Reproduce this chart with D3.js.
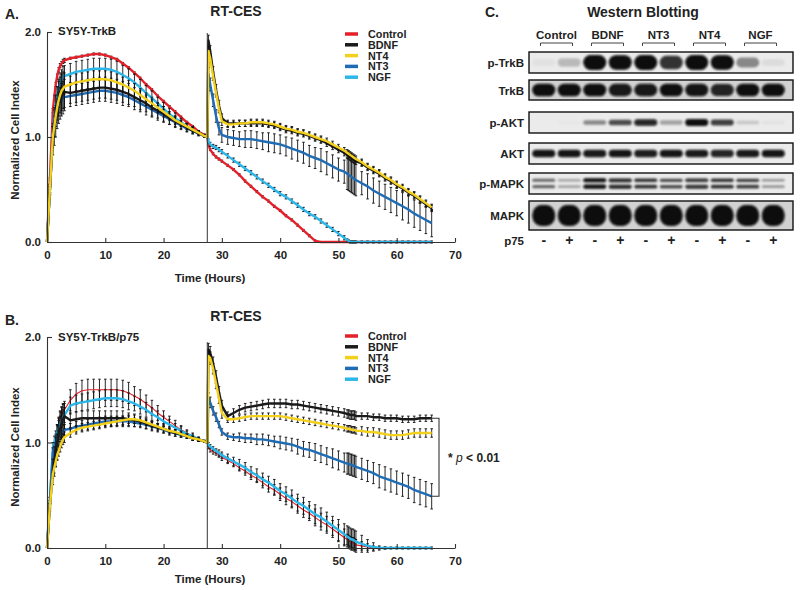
<!DOCTYPE html>
<html><head><meta charset="utf-8">
<script src="https://cdn.jsdelivr.net/npm/d3@7"></script>
<style>
body{margin:0;background:#fff}
svg{display:block;font-family:"Liberation Sans",Arial,Helvetica,sans-serif;font-weight:bold}
</style>
</head><body><svg id="c" width="800" height="590"></svg>
<script>
// ---------------- DATA ----------------
const times = [0,0.5,1,1.25,1.5,1.75,2,2.25,2.5,2.75,3,
 4,5,6,7,8,9,10,11,12,13,14,15,16,17,18,19,20,21,22,23,24,25,26,27,
 27.5,27.7,28,28.5,29,29.5,30,
 31,32,33,34,35,36,37,38,39,40,41,42,43,44,45,46,47,48,49,50,51,
 51.5,51.75,52,52.25,52.5,52.75,53,
 54,55,56,57,58,59,60,61,62,63,64,65,66];
const seriesNames = ["Control","BDNF","NT4","NT3","NGF"];
const seriesColors = ["#e4202a","#1a1a1a","#f3d01c","#1f6cb4","#2cb7ea"];
const xTicks = [0,10,20,30,40,50,60,70];
const yTicks = [0,1,2];
const treatmentTime = 27.5;

// Panel A: SY5Y-TrkB
const A_Control = [0,0.6,1.25,1.38,1.5,1.58,1.64,1.68,1.7,1.72,1.73,
 1.75,1.76,1.77,1.78,1.79,1.79,1.78,1.76,1.74,1.70,1.66,1.61,1.56,1.50,1.45,1.39,1.34,1.29,1.24,1.19,1.14,1.10,1.05,1.02,
 1.0,0.93,0.88,0.84,0.81,0.79,0.77,
 0.73,0.69,0.64,0.58,0.53,0.48,0.43,0.39,0.34,0.30,0.25,0.21,0.16,0.11,0.06,0.01,0,0,0,0,0,
 0,0,0,0,0,0,0,
 0,0,0,0,0,0,0,0,0,0,0,0,0];
const A_NGF = [0,0.5,1.05,1.2,1.32,1.4,1.47,1.52,1.55,1.57,1.58,
 1.6,1.62,1.63,1.64,1.65,1.65,1.65,1.64,1.62,1.59,1.56,1.52,1.47,1.42,1.37,1.32,1.27,1.22,1.18,1.14,1.10,1.07,1.04,1.01,
 1.0,0.96,0.93,0.91,0.9,0.88,0.86,
 0.82,0.78,0.74,0.70,0.66,0.62,0.58,0.54,0.50,0.46,0.43,0.39,0.35,0.31,0.27,0.24,0.20,0.16,0.12,0.08,0.04,
 0.02,0.01,0,0,0,0,0,
 0,0,0,0,0,0,0,0,0,0,0,0,0];
const A_NT4 = [0,0.5,1.0,1.1,1.2,1.28,1.35,1.4,1.44,1.46,1.48,
 1.5,1.52,1.53,1.54,1.55,1.55,1.55,1.54,1.52,1.5,1.47,1.44,1.4,1.36,1.32,1.28,1.24,1.2,1.16,1.13,1.1,1.07,1.04,1.01,
 1.0,1.82,1.75,1.58,1.42,1.27,1.15,
 1.12,1.12,1.13,1.13,1.14,1.14,1.14,1.13,1.12,1.1,1.08,1.07,1.05,1.04,1.02,1.0,0.98,0.96,0.93,0.9,0.87,
 0.85,0.84,0.83,0.82,0.81,0.8,0.79,
 0.76,0.72,0.69,0.66,0.62,0.59,0.55,0.52,0.48,0.45,0.41,0.37,0.33];
const A_BDNF = [0,0.5,0.98,1.1,1.2,1.28,1.33,1.37,1.4,1.42,1.43,
 1.42,1.43,1.44,1.45,1.46,1.47,1.47,1.46,1.45,1.43,1.41,1.38,1.35,1.32,1.28,1.25,1.22,1.18,1.15,1.12,1.09,1.06,1.04,1.01,
 1.0,1.92,1.82,1.62,1.45,1.3,1.18,
 1.13,1.13,1.13,1.13,1.13,1.13,1.13,1.12,1.11,1.09,1.07,1.06,1.04,1.03,1.01,0.99,0.97,0.94,0.91,0.88,0.85,
 0.83,0.82,0.81,0.8,0.79,0.78,0.77,
 0.75,0.71,0.68,0.65,0.61,0.58,0.54,0.51,0.47,0.44,0.4,0.36,0.32];
const A_NT3 = [0,0.5,1.0,1.1,1.2,1.26,1.3,1.33,1.35,1.37,1.38,
 1.39,1.4,1.41,1.42,1.43,1.44,1.44,1.43,1.42,1.4,1.38,1.35,1.32,1.29,1.26,1.23,1.2,1.17,1.14,1.11,1.08,1.06,1.03,1.01,
 1.0,1.6,1.5,1.35,1.2,1.08,1.02,
 1.0,0.99,0.98,0.98,0.98,0.97,0.96,0.95,0.94,0.93,0.91,0.89,0.87,0.85,0.82,0.8,0.78,0.75,0.72,0.69,0.67,
 0.65,0.64,0.63,0.62,0.61,0.6,0.59,
 0.56,0.53,0.49,0.46,0.43,0.4,0.37,0.34,0.31,0.27,0.24,0.21,0.18];

const A_Control_err = [0,0.01,0.02,0.02,0.02,0.02,0.02,0.02,0.02,0.02,0.02,
 0.01,0.01,0.01,0.01,0.01,0.01,0.01,0.01,0.01,0.01,0.01,0.01,0.01,0.01,0.01,0.01,0.01,0.01,0.01,0.01,0.01,0.01,0.01,0.01,
 0,0.01,0.01,0.01,0.01,0.01,0.01,
 0.01,0.01,0.01,0.01,0.01,0.01,0.01,0.01,0.01,0.01,0.01,0.01,0.01,0.01,0.01,0.01,0,0,0,0,0,
 0,0,0,0,0,0,0,
 0,0,0,0,0,0,0,0,0,0,0,0,0];
const A_NGF_err = [0,0.03,0.05,0.06,0.07,0.08,0.08,0.09,0.09,0.1,0.1,
 0.1,0.1,0.1,0.1,0.1,0.1,0.1,0.1,0.1,0.09,0.09,0.08,0.08,0.07,0.07,0.06,0.06,0.05,0.05,0.04,0.03,0.03,0.02,0.01,
 0,0.02,0.02,0.02,0.02,0.02,0.02,
 0.02,0.02,0.02,0.02,0.02,0.02,0.02,0.02,0.02,0.02,0.02,0.02,0.02,0.02,0.02,0.02,0.02,0.02,0.02,0.02,0.02,
 0.01,0.01,0.01,0.01,0.01,0.01,0.01,
 0.01,0.01,0.01,0.01,0.01,0.01,0.01,0.01,0.01,0.01,0.01,0.01,0.01];
const A_NT4_err = [0,0.03,0.05,0.05,0.06,0.06,0.07,0.07,0.07,0.07,0.07,
 0.08,0.08,0.08,0.08,0.08,0.08,0.08,0.08,0.08,0.07,0.07,0.07,0.06,0.06,0.06,0.05,0.05,0.04,0.04,0.03,0.03,0.02,0.02,0.01,
 0,0.04,0.04,0.04,0.04,0.04,0.04,
 0.03,0.03,0.03,0.03,0.03,0.03,0.03,0.03,0.03,0.03,0.03,0.03,0.03,0.03,0.03,0.03,0.03,0.03,0.03,0.03,0.03,
 0.03,0.03,0.03,0.03,0.03,0.03,0.03,
 0.03,0.03,0.03,0.03,0.03,0.03,0.03,0.03,0.03,0.03,0.03,0.03,0.03];
const A_BDNF_err = [0,0.05,0.15,0.18,0.2,0.2,0.2,0.2,0.2,0.2,0.18,
 0.1,0.1,0.1,0.1,0.1,0.1,0.1,0.1,0.1,0.1,0.1,0.09,0.09,0.08,0.08,0.07,0.07,0.06,0.05,0.04,0.04,0.03,0.02,0.01,
 0,0.05,0.05,0.05,0.05,0.05,0.04,
 0.03,0.03,0.03,0.03,0.03,0.03,0.03,0.03,0.03,0.03,0.03,0.03,0.03,0.03,0.03,0.03,0.03,0.03,0.03,0.03,0.03,
 0.03,0.03,0.03,0.03,0.03,0.03,0.03,
 0.03,0.03,0.03,0.03,0.03,0.03,0.03,0.03,0.03,0.03,0.03,0.03,0.03];
const A_NT3_err = [0,0.05,0.1,0.1,0.1,0.1,0.1,0.1,0.1,0.1,0.1,
 0.1,0.1,0.1,0.1,0.1,0.1,0.1,0.1,0.1,0.1,0.09,0.09,0.08,0.08,0.07,0.07,0.06,0.05,0.05,0.04,0.03,0.03,0.02,0.01,
 0,0.06,0.06,0.06,0.06,0.06,0.07,
 0.07,0.07,0.07,0.08,0.08,0.08,0.08,0.09,0.09,0.09,0.09,0.1,0.1,0.1,0.1,0.1,0.11,0.11,0.11,0.11,0.11,
 0.15,0.15,0.15,0.15,0.15,0.15,0.15,
 0.11,0.12,0.12,0.12,0.12,0.12,0.12,0.13,0.13,0.13,0.13,0.13,0.13];

// Panel B: SY5Y-TrkB/p75
const B_Control = [0,0.4,0.8,0.92,1.02,1.1,1.17,1.22,1.26,1.29,1.31,
 1.4,1.46,1.49,1.5,1.5,1.5,1.5,1.5,1.5,1.49,1.47,1.44,1.41,1.37,1.33,1.28,1.24,1.2,1.16,1.12,1.09,1.06,1.03,1.01,
 1.0,0.96,0.93,0.91,0.9,0.88,0.86,
 0.83,0.8,0.76,0.73,0.69,0.66,0.62,0.58,0.55,0.51,0.47,0.44,0.4,0.36,0.33,0.29,0.25,0.22,0.18,0.14,0.1,
 0.08,0.07,0.06,0.05,0.05,0.04,0.03,
 0.02,0.01,0,0,0,0,0,0,0,0,0,0,0];
const B_NGF = [0,0.45,0.95,1.0,1.05,1.1,1.14,1.18,1.21,1.24,1.26,
 1.35,1.37,1.38,1.39,1.4,1.41,1.42,1.42,1.42,1.41,1.39,1.37,1.34,1.31,1.27,1.24,1.2,1.17,1.14,1.11,1.08,1.06,1.03,1.01,
 1.0,0.98,0.96,0.94,0.92,0.9,0.88,
 0.85,0.82,0.79,0.76,0.72,0.69,0.65,0.62,0.58,0.54,0.51,0.47,0.43,0.4,0.36,0.32,0.29,0.25,0.21,0.17,0.13,
 0.11,0.1,0.09,0.08,0.08,0.07,0.06,
 0.04,0.02,0.01,0,0,0,0,0,0,0,0,0,0];
const B_BDNF = [0,0.4,0.72,0.82,0.92,1.0,1.07,1.13,1.18,1.22,1.25,
 1.21,1.22,1.23,1.23,1.23,1.23,1.23,1.23,1.23,1.23,1.22,1.21,1.2,1.18,1.16,1.14,1.13,1.11,1.09,1.08,1.06,1.04,1.03,1.01,
 1.0,1.88,1.85,1.75,1.62,1.48,1.35,
 1.25,1.28,1.31,1.33,1.34,1.35,1.36,1.37,1.37,1.37,1.37,1.36,1.36,1.35,1.34,1.33,1.32,1.31,1.3,1.29,1.28,
 1.27,1.27,1.26,1.26,1.26,1.26,1.25,
 1.25,1.25,1.24,1.24,1.23,1.23,1.23,1.22,1.22,1.22,1.23,1.23,1.23];
const B_NT4 = [0,0.4,0.7,0.76,0.82,0.88,0.92,0.96,1.0,1.03,1.05,
 1.09,1.12,1.14,1.15,1.16,1.17,1.18,1.19,1.2,1.21,1.22,1.22,1.21,1.19,1.17,1.15,1.13,1.11,1.1,1.08,1.06,1.04,1.03,1.01,
 1.0,1.82,1.8,1.7,1.56,1.42,1.28,
 1.22,1.22,1.23,1.24,1.25,1.25,1.25,1.25,1.25,1.25,1.24,1.23,1.22,1.21,1.2,1.19,1.18,1.17,1.16,1.15,1.14,
 1.13,1.13,1.13,1.12,1.12,1.12,1.11,
 1.11,1.1,1.1,1.09,1.08,1.07,1.07,1.07,1.08,1.09,1.09,1.09,1.09];
const B_NT3 = [0,0.45,0.9,0.95,1.0,1.03,1.06,1.08,1.1,1.11,1.12,
 1.13,1.15,1.16,1.17,1.18,1.19,1.2,1.2,1.2,1.2,1.2,1.19,1.18,1.17,1.15,1.14,1.12,1.1,1.09,1.07,1.06,1.04,1.03,1.01,
 1.0,1.42,1.38,1.3,1.24,1.17,1.1,
 1.06,1.05,1.05,1.04,1.04,1.03,1.03,1.02,1.01,1.0,0.99,0.98,0.96,0.94,0.93,0.91,0.89,0.87,0.85,0.83,0.81,
 0.8,0.8,0.79,0.79,0.78,0.78,0.77,
 0.75,0.73,0.71,0.68,0.66,0.64,0.62,0.6,0.58,0.55,0.53,0.51,0.49];

const B_Control_err = [0,0.03,0.05,0.06,0.06,0.07,0.07,0.08,0.08,0.08,0.08,
 0.1,0.1,0.1,0.1,0.1,0.1,0.1,0.1,0.1,0.1,0.1,0.09,0.09,0.08,0.07,0.07,0.06,0.05,0.05,0.04,0.03,0.03,0.02,0.01,
 0,0.02,0.02,0.02,0.02,0.02,0.03,
 0.03,0.03,0.03,0.04,0.04,0.04,0.05,0.05,0.05,0.06,0.06,0.06,0.07,0.07,0.07,0.08,0.08,0.08,0.08,0.08,0.08,
 0.05,0.05,0.05,0.05,0.05,0.05,0.05,
 0.04,0.03,0.02,0.01,0.01,0,0,0,0,0,0,0,0];
const B_NGF_err = [0,0.03,0.05,0.06,0.06,0.07,0.07,0.07,0.07,0.07,0.07,
 0.08,0.08,0.08,0.08,0.08,0.08,0.08,0.08,0.08,0.08,0.08,0.07,0.07,0.07,0.06,0.06,0.05,0.05,0.04,0.04,0.03,0.02,0.02,0.01,
 0,0.02,0.02,0.02,0.02,0.03,0.03,
 0.04,0.04,0.05,0.05,0.05,0.06,0.06,0.06,0.07,0.07,0.07,0.08,0.08,0.08,0.08,0.09,0.09,0.09,0.09,0.1,0.1,
 0.1,0.1,0.1,0.1,0.1,0.1,0.1,
 0.08,0.06,0.04,0.02,0.01,0.01,0.01,0.01,0.01,0.01,0.01,0.01,0.01];
const B_BDNF_err = [0,0.05,0.12,0.14,0.15,0.16,0.16,0.16,0.15,0.14,0.12,
 0.07,0.07,0.07,0.07,0.07,0.07,0.07,0.07,0.07,0.07,0.06,0.06,0.05,0.05,0.04,0.04,0.04,0.03,0.03,0.03,0.02,0.02,0.02,0.01,
 0,0.06,0.06,0.06,0.06,0.05,0.05,
 0.04,0.04,0.04,0.04,0.04,0.04,0.04,0.04,0.04,0.04,0.04,0.04,0.04,0.04,0.04,0.04,0.04,0.04,0.04,0.04,0.04,
 0.04,0.04,0.04,0.04,0.04,0.04,0.04,
 0.03,0.03,0.03,0.03,0.03,0.03,0.03,0.03,0.03,0.03,0.03,0.03,0.03];
const B_NT4_err = [0,0.02,0.04,0.05,0.05,0.05,0.05,0.05,0.05,0.05,0.05,
 0.04,0.04,0.04,0.04,0.04,0.04,0.04,0.04,0.04,0.04,0.04,0.04,0.03,0.03,0.03,0.03,0.03,0.02,0.02,0.02,0.02,0.02,0.01,0.01,
 0,0.06,0.06,0.05,0.05,0.05,0.05,
 0.03,0.03,0.03,0.03,0.03,0.03,0.03,0.03,0.03,0.03,0.03,0.03,0.03,0.03,0.03,0.03,0.03,0.03,0.03,0.03,0.03,
 0.03,0.03,0.03,0.03,0.03,0.03,0.03,
 0.04,0.04,0.04,0.04,0.04,0.04,0.04,0.04,0.04,0.04,0.04,0.04,0.04];
const B_NT3_err = [0,0.03,0.05,0.05,0.05,0.05,0.05,0.05,0.05,0.05,0.05,
 0.05,0.05,0.05,0.05,0.05,0.05,0.05,0.05,0.05,0.05,0.05,0.04,0.04,0.04,0.04,0.03,0.03,0.03,0.03,0.02,0.02,0.02,0.01,0.01,
 0,0.05,0.05,0.04,0.04,0.03,0.03,
 0.03,0.03,0.04,0.04,0.04,0.05,0.05,0.05,0.05,0.06,0.06,0.06,0.07,0.07,0.07,0.08,0.08,0.08,0.09,0.09,0.09,
 0.1,0.1,0.1,0.1,0.1,0.1,0.1,
 0.1,0.1,0.1,0.11,0.11,0.11,0.11,0.11,0.11,0.12,0.12,0.12,0.12];

// Panel C: Western blot band intensities (0..1), lanes: Control-, Control+, BDNF-, BDNF+, NT3-, NT3+, NT4-, NT4+, NGF-, NGF+
const blotGroups = ["Control","BDNF","NT3","NT4","NGF"];
const p75Status = ["-","+"];
const blotRows = ["p-TrkB","TrkB","p-AKT","AKT","p-MAPK","MAPK"];
const band_pTrkB = [0.04,0.2,1,0.95,1,0.8,1,0.95,0.4,0.06];
const band_TrkB  = [0.95,0.95,0.95,0.9,0.9,0.95,0.92,0.85,0.95,0.95];
const band_pAKT  = [0,0.02,0.4,0.65,0.85,0.3,0.95,0.7,0.15,0.04];
const band_AKT   = [0.92,0.92,0.9,0.92,0.88,0.92,0.9,0.85,0.9,0.92];
const band_pMAPK = [0.55,0.3,0.95,0.85,0.75,0.65,0.8,0.75,0.7,0.35];
const band_MAPK  = [1,1,1,1,1,1,1,1,1,1];

// ---------------- DRAW ----------------
const svg = d3.select("#c");
const FONT = '"Liberation Sans",Arial,sans-serif';

function drawPanel(opt){
  const g = svg.append("g");
  const x = d3.scaleLinear().domain([0,70]).range([47,455]);
  const y = d3.scaleLinear().domain([0,2]).range(opt.yRange);
  const series = [
    {name:"Control", v:opt.values.Control, e:opt.errors.Control, w:opt.controlWidth},
    {name:"NGF", v:opt.values.NGF, e:opt.errors.NGF, w:2.4},
    {name:"NT3", v:opt.values.NT3, e:opt.errors.NT3, w:2.4},
    {name:"BDNF", v:opt.values.BDNF, e:opt.errors.BDNF, w:2.4},
    {name:"NT4", v:opt.values.NT4, e:opt.errors.NT4, w:2.4}
  ];
  const color = d3.scaleOrdinal().domain(seriesNames).range(seriesColors);
  const line = d3.line().x(d=>x(d.t)).y(d=>y(d.v));
  series.forEach(s=>{
    const pts = times.map((t,i)=>({t, v:s.v[i], e:s.e[i]})).filter(d=>d.v!==undefined);
    const eg = g.append("g").attr("stroke","#111").attr("stroke-width",0.9);
    pts.filter(d=>d.e>0).forEach(d=>{
      const xx = x(d.t);
      eg.append("line").attr("x1",xx).attr("x2",xx).attr("y1",y(d.v-d.e)).attr("y2",y(d.v+d.e));
      eg.append("line").attr("x1",xx-1.3).attr("x2",xx+1.3).attr("y1",y(d.v-d.e)).attr("y2",y(d.v-d.e));
      eg.append("line").attr("x1",xx-1.3).attr("x2",xx+1.3).attr("y1",y(d.v+d.e)).attr("y2",y(d.v+d.e));
    });
    g.append("path").datum(pts).attr("d",line).attr("fill","none")
      .attr("stroke",color(s.name)).attr("stroke-width",s.w).attr("stroke-linejoin","round");
  });
  // treatment line
  g.append("line").attr("x1",x(treatmentTime)).attr("x2",x(treatmentTime))
    .attr("y1",y(opt.treatTop)).attr("y2",y(0)).attr("stroke","#333").attr("stroke-width",1);
  // axes
  const xa = g.append("g").attr("transform",`translate(0,${y(0)})`)
    .call(d3.axisBottom(x).tickValues(xTicks).tickSize(-4).tickSizeOuter(0).tickPadding(9));
  const ya = g.append("g").attr("transform",`translate(${x(0)},0)`)
    .call(d3.axisLeft(y).tickValues(yTicks).tickFormat(d3.format(".1f")).tickSize(-5).tickSizeOuter(0).tickPadding(6));
  [xa,ya].forEach(a=>{
    a.selectAll("path,line").attr("stroke","#333").attr("stroke-width",1.1);
    a.selectAll("text").attr("font-family",FONT).attr("font-weight","bold").attr("font-size",11.5).attr("fill","#222");
  });
  // texts
  const T = (x0,y0,txt,size,anchor)=>g.append("text").attr("x",x0).attr("y",y0).text(txt)
     .attr("font-size",size).attr("text-anchor",anchor||"start").attr("fill","#222");
  T(5,opt.letterY,opt.letter,14);
  T(236,opt.titleY,"RT-CES",14,"middle");
  T(58,opt.subY,opt.sub,11.5);
  T(210,opt.xLabelY,"Time (Hours)",11.5,"middle");
  g.append("text").attr("transform",`translate(19,${opt.yLabelC}) rotate(-90)`)
    .attr("text-anchor","middle").attr("font-size",11.5).attr("fill","#222").text("Normalized Cell Index");
  // legend
  seriesNames.forEach((n,i)=>{
    const yy = opt.legendY + i*10.8;
    g.append("line").attr("x1",345).attr("x2",358).attr("y1",yy).attr("y2",yy)
      .attr("stroke",color(n)).attr("stroke-width",3.5);
    T(368,yy+4,n,10.8);
  });
  return {x,y,g};
}

const A = drawPanel({yRange:[242,32], values:{Control:A_Control,NGF:A_NGF,NT3:A_NT3,BDNF:A_BDNF,NT4:A_NT4},
  errors:{Control:A_Control_err,NGF:A_NGF_err,NT3:A_NT3_err,BDNF:A_BDNF_err,NT4:A_NT4_err},
  controlWidth:2.4, treatTop:1.99, letter:"A.", letterY:19, titleY:16, sub:"SY5Y-TrkB", subY:35,
  xLabelY:282, yLabelC:140, legendY:34});
const B = drawPanel({yRange:[548,337], values:{Control:B_Control,NGF:B_NGF,NT3:B_NT3,BDNF:B_BDNF,NT4:B_NT4},
  errors:{Control:B_Control_err,NGF:B_NGF_err,NT3:B_NT3_err,BDNF:B_BDNF_err,NT4:B_NT4_err},
  controlWidth:1.1, treatTop:1.95, letter:"B.", letterY:325, titleY:321, sub:"SY5Y-TrkB/p75", subY:341,
  xLabelY:583, yLabelC:447, legendY:336});

// significance bracket in B
{
  const top = B.y(B_BDNF[B_BDNF.length-1]), bot = B.y(B_NT3[B_NT3.length-1]);
  const bx = 439;
  B.g.append("path").attr("d",`M${bx-9},${top}H${bx}V${bot}H${bx-9}`).attr("fill","none")
    .attr("stroke","#333").attr("stroke-width",1.1);
  const t = B.g.append("text").attr("x",448).attr("y",(top+bot)/2+5).attr("font-size",12).attr("fill","#222");
  t.append("tspan").text("* ");
  t.append("tspan").attr("font-style","italic").attr("font-weight","normal").text("p");
  t.append("tspan").text(" < 0.01");
}

// ---------------- PANEL C ----------------
{
  const g = svg.append("g");
  const defs = svg.append("defs");
  defs.append("filter").attr("id","blur").attr("x","-30%").attr("y","-60%").attr("width","160%").attr("height","220%")
    .append("feGaussianBlur").attr("stdDeviation",1.3);
  const gx = d3.scaleBand().domain(blotGroups).range([531,786]);
  const lx = d3.scaleBand().domain(p75Status).range([0,gx.bandwidth()]);
  const laneX = i => gx(blotGroups[Math.floor(i/2)]) + lx(p75Status[i%2]) + lx.bandwidth()/2;
  g.append("text").attr("x",485).attr("y",17).attr("font-size",14).attr("fill","#222").text("C.");
  g.append("text").attr("x",643).attr("y",17).attr("font-size",14).attr("text-anchor","middle").attr("fill","#222").text("Western Blotting");
  blotGroups.forEach(n=>{
    const c = gx(n)+gx.bandwidth()/2;
    g.append("text").attr("x",c).attr("y",39).attr("text-anchor","middle").attr("font-size",11.5).attr("fill","#222").text(n);
    g.append("path").attr("d",`M${c-16},46V43H${c+16}V46`).attr("fill","none").attr("stroke","#444").attr("stroke-width",1);
  });
  const rows = [
    {name:"p-TrkB", top:52, h:21, vals:band_pTrkB, bh:15, dbl:false},
    {name:"TrkB", top:80, h:20, vals:band_TrkB, bh:13, dbl:false},
    {name:"p-AKT", top:112, h:21, vals:band_pAKT, bh:7, dbl:false},
    {name:"AKT", top:143, h:21, vals:band_AKT, bh:8, dbl:false},
    {name:"p-MAPK", top:173, h:21, vals:band_pMAPK, bh:4, dbl:true},
    {name:"MAPK", top:201, h:29, vals:band_MAPK, bh:21, dbl:false}
  ];
  rows.forEach(r=>{
    const bg = r.name==="TrkB"||r.name==="MAPK" ? "#d2d2d2" : "#ebebeb";
    g.append("rect").attr("x",529).attr("y",r.top).attr("width",264).attr("height",r.h).attr("fill",bg);
    const bands = g.append("g").attr("filter","url(#blur)");
    const cy = r.top + r.h/2;
    r.vals.forEach((v,i)=>{
      if(v<=0) return;
      const offs = r.dbl ? [-3.2,3.2] : [0];
      offs.forEach((o,k)=>{
        const hh = r.bh*(0.45+0.55*v)*(r.dbl&&k===1?1.1:1);
        bands.append("rect").attr("x",laneX(i)-11.5).attr("width",23)
          .attr("y",cy+o-hh/2).attr("height",hh).attr("rx",Math.min(9,hh/2)).attr("ry",hh/2)
          .attr("fill","#080808").attr("opacity",Math.min(1,v*1.05));
      });
    });
    g.append("rect").attr("x",529).attr("y",r.top).attr("width",264).attr("height",r.h)
      .attr("fill","none").attr("stroke","#111").attr("stroke-width",1.4);
    g.append("text").attr("x",524).attr("y",cy+4.5).attr("text-anchor","end").attr("font-size",11.5).attr("fill","#222").text(r.name);
  });
  g.append("text").attr("x",524).attr("y",244.5).attr("text-anchor","end").attr("font-size",11.5).attr("fill","#222").text("p75");
  d3.range(10).forEach(i=>{
    g.append("text").attr("x",laneX(i)).attr("y",245).attr("text-anchor","middle").attr("font-size",14).attr("fill","#222")
      .text(p75Status[i%2]);
  });
}
</script>
</body></html>
